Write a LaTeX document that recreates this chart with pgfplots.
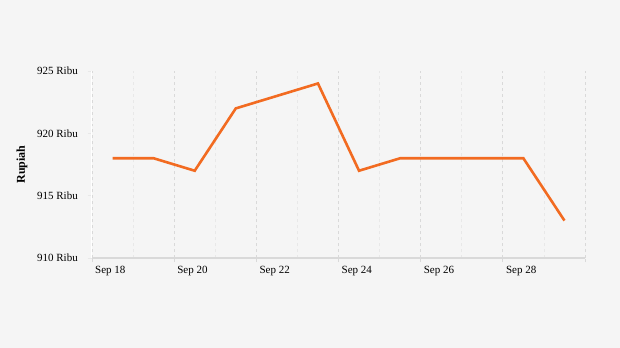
\documentclass[border=0pt]{standalone}
\usepackage{pgfplots}
\pgfplotsset{compat=1.18}
\usepackage{fontspec}
\setmainfont{Liberation Serif}
\definecolor{bg}{HTML}{F5F5F5}
\definecolor{lineor}{HTML}{F26B21}
\definecolor{gmaj}{HTML}{D9D9D9}
\definecolor{gmin}{HTML}{E8E8E8}
\begin{document}
\begin{tikzpicture}
\fill[bg] (-92bp,-90bp) rectangle (528bp,258bp);
\useasboundingbox (-92bp,-90bp) rectangle (528bp,258bp);
\begin{axis}[
  at={(0,0)}, anchor=south west,
  scale only axis, width=493bp, height=187bp,
  xmin=18, xmax=30, ymin=910, ymax=925,
  axis x line*=bottom, axis y line*=left,
  x axis line style={draw=gmaj, line width=1.2bp},
  y axis line style={draw=white, line width=1bp},
  xtick={18,20,...,30},
  xticklabels={Sep 18,Sep 20,Sep 22,Sep 24,Sep 26,Sep 28,{}},
  minor xtick={19,21,...,29},
  xmajorgrids, xminorgrids,
  major grid style={draw=gmaj, dashed, line width=0.8bp},
  minor grid style={draw=gmin, dashed, line width=0.8bp},
  xtick style={draw=gmaj, dashed, line width=0.8bp},
  tick align=outside, major tick length=4bp, minor tick length=0pt,
  ytick={910,915,920,925},
  yticklabels={910 Ribu,915 Ribu,920 Ribu,925 Ribu},
  ytick style={draw=gmin, line width=0.8bp, solid},
  ytick align=outside,
  xticklabel style={anchor=north west, inner sep=0pt, xshift=3bp, yshift=-4bp, font=\fontsize{11bp}{13bp}\selectfont},
  yticklabel style={anchor=east, inner sep=0pt, xshift=-10bp, font=\fontsize{11bp}{13bp}\selectfont},
  ylabel={Rupiah},
  ylabel style={at={(rel axis cs:0,0.5)}, anchor=center, yshift=70bp, font=\bfseries\fontsize{12bp}{14bp}\selectfont},
  clip=false,
]
\addplot[lineor, line width=2.6bp, line join=miter] coordinates {
  (18.5,918) (19.5,918) (20.5,917) (21.5,922) (22.5,923) (23.5,924)
  (24.5,917) (25.5,918) (26.5,918) (27.5,918) (28.5,918) (29.5,913)
};
\end{axis}
\end{tikzpicture}
\end{document}
